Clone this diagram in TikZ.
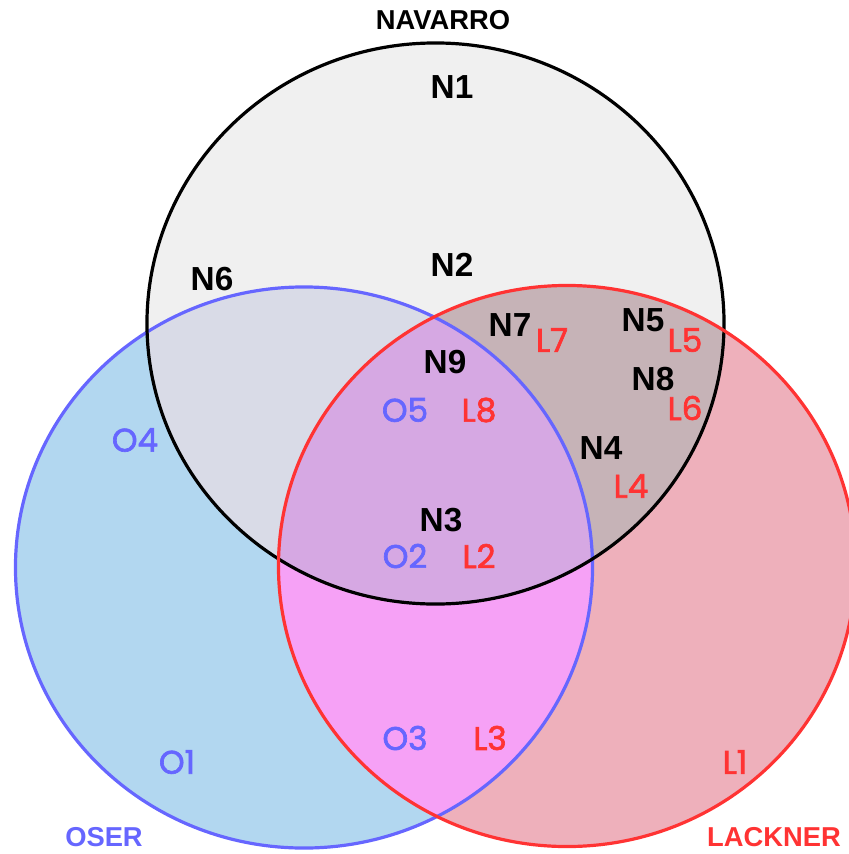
\documentclass[tikz,border=0pt]{standalone}
\usepackage{fontspec}
\setmainfont{Liberation Sans}
\newfontfamily\labelfont{Poppins}[FakeBold=2]
\begin{document}
\begin{tikzpicture}[x=0.75pt,y=-0.75pt,
  setline/.style={line width=2.4pt},
  ntext/.style={inner sep=0pt,font=\fontsize{25}{25}\selectfont\bfseries,text=black},
  otext/.style={inner sep=0pt,font=\labelfont\fontsize{24.5}{24.5}\selectfont,text=oblue},
  ltext/.style={inner sep=0pt,font=\labelfont\fontsize{24.5}{24.5}\selectfont,text=lred},
  title/.style={inner sep=0pt,font=\fontsize{20.5}{20.5}\selectfont\bfseries}]
\definecolor{oblue}{HTML}{6666FF}
\definecolor{lred}{HTML}{FF3333}
\definecolor{nfill}{HTML}{F0F0F0}
\definecolor{ofill}{HTML}{B2D7F0}
\definecolor{lfill}{HTML}{EEB0BB}
\definecolor{nofill}{HTML}{D9DBE7}
\definecolor{nlfill}{HTML}{C6B3B7}
\definecolor{olfill}{HTML}{F6A1F6}
\definecolor{allfill}{HTML}{D6A8E3}
\useasboundingbox (0,0) rectangle (849,854);
\coordinate (cn) at (435.5,323.5);
\coordinate (co) at (304,567.5);
\coordinate (cl) at (567,566);
\def\nset{(cn) ellipse [x radius=216.4pt, y radius=210.4pt]}
\def\oset{(co) ellipse [x radius=216.4pt, y radius=210.4pt]}
\def\lset{(cl) ellipse [x radius=216.4pt, y radius=210.4pt]}
% single-set fills
\fill[nfill] \nset;
\fill[ofill] \oset;
\fill[lfill] \lset;
% pairwise overlaps
\begin{scope}
  \clip \nset;
  \fill[nofill] \oset;
  \fill[nlfill] \lset;
\end{scope}
\begin{scope}
  \clip \oset;
  \fill[olfill] \lset;
\end{scope}
% triple overlap
\begin{scope}
  \clip \nset;
  \clip \oset;
  \fill[allfill] \lset;
\end{scope}
% outlines
\draw[setline,oblue] \oset;
\draw[setline,black] \nset;
\draw[setline,lred] \lset;
% set titles
\node[title,text=black] (tnav) at (443,20) {NAVARRO};
\node[title,text=oblue] (toser) at (104,837) {OSER};
\node[title,text=lred] (tlack) at (774,837) {LACKNER};
% Navarro items
\node[ntext] (n1) at (452,87) {N1};
\node[ntext] (n2) at (452,265) {N2};
\node[ntext] (n6) at (212,279) {N6};
\node[ntext] (n7) at (510,325) {N7};
\node[ntext] (n5) at (643,320) {N5};
\node[ntext] (n8) at (653,379) {N8};
\node[ntext] (n9) at (445,362) {N9};
\node[ntext] (n4) at (601,448) {N4};
\node[ntext] (n3) at (441,520) {N3};
% Oser items
\node[otext] (o5) at (405,410) {O5};
\node[otext] (o2) at (405,556) {O2};
\node[otext] (o4) at (135,440) {O4};
\node[otext] (o3) at (405,738) {O3};
\node[otext] (o1) at (177,762) {O1};
% Lackner items
\node[ltext] (l7) at (552,340) {L7};
\node[ltext] (l5) at (685,340) {L5};
\node[ltext] (l6) at (685,408) {L6};
\node[ltext] (l8) at (479,410) {L8};
\node[ltext] (l4) at (631,486) {L4};
\node[ltext] (l2) at (479,556) {L2};
\node[ltext] (l3) at (490,738) {L3};
\node[ltext] (l1) at (735,762) {L1};
\end{tikzpicture}
\end{document}
